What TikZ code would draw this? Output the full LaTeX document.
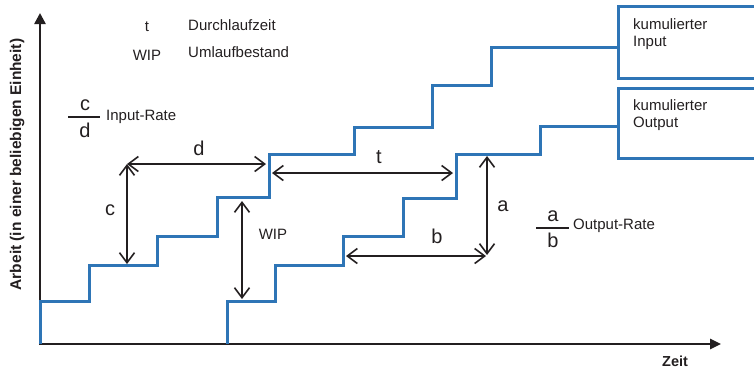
\documentclass[tikz,border=0pt]{standalone}
\usepackage{fontspec}
\setmainfont{Liberation Sans}
\usetikzlibrary{arrows.meta}
\definecolor{stepblue}{RGB}{46,117,182}
\definecolor{ink}{RGB}{35,31,32}
\begin{document}
\begin{tikzpicture}[x=1pt,y=-1pt,
  axis/.style={ink, line width=2.5pt},
  curve/.style={stepblue, line width=3pt, line join=miter},
  dim/.style={ink, line width=1.6pt,
    {Straight Barb[length=10pt,width=15pt]}-{Straight Barb[length=10pt,width=15pt]}},
  txt/.style={ink, inner sep=0pt, font=\fontsize{15}{17}\selectfont},
  letter/.style={ink, inner sep=0pt, font=\fontsize{20}{22}\selectfont},
  axlabel/.style={ink, inner sep=0pt, font=\fontsize{15.5}{17}\selectfont\bfseries},
  fracbar/.style={ink, line width=1.2pt}]
\useasboundingbox (0,0) rectangle (754,368);

% axes
\coordinate (origin) at (40,344);
\coordinate (ytop) at (40,13);
\coordinate (xend) at (721,344);
\draw[axis, -{Triangle[length=11pt,width=11pt]}] (40,345.2) -- (ytop);
\draw[axis, -{Triangle[length=11pt,width=10pt]}] (38.8,344) -- (xend);
\node[axlabel, rotate=90, anchor=base] (ylab) at (21,164.5) {Arbeit (in einer beliebigen Einheit)};
\node[axlabel, font=\fontsize{14.5}{17}\selectfont\bfseries, anchor=base west] (xlab) at (662,366) {Zeit};

% cumulative input and output
\draw[curve] (40,344) -- (40,301) -- (89,301) -- (89,265) -- (157,265) -- (157,236)
  -- (217,236) -- (217,197) -- (269,197) -- (269,154) -- (354,154) -- (354,127)
  -- (432,127) -- (432,85) -- (491,85) -- (491,47) -- (618,47);
\draw[curve] (227,344) -- (227,301) -- (275,301) -- (275,265) -- (343,265) -- (343,236)
  -- (403,236) -- (403,198) -- (456,198) -- (456,154) -- (540,154) -- (540,126) -- (618,126);

% legend boxes at the right edge
\draw[curve] (760,6) -- (618,6) -- (618,78) -- (760,78);
\draw[curve] (760,88) -- (618,88) -- (618,158) -- (760,158);
\node[txt, anchor=base west] (in1) at (633,29) {kumulierter};
\node[txt, anchor=base west] (in2) at (633,46) {Input};
\node[txt, anchor=base west] (out1) at (633,110) {kumulierter};
\node[txt, anchor=base west] (out2) at (633,127) {Output};

% symbol legend
\node[txt, anchor=base] (symt) at (147,31) {t};
\node[txt, anchor=base west] (deft) at (188,30) {Durchlaufzeit};
\node[txt, anchor=base] (symw) at (147,60) {WIP};
\node[txt, anchor=base west] (defw) at (188,57) {Umlaufbestand};

% input rate c/d
\node[letter, anchor=base] (fc) at (85,110) {c};
\node[letter, anchor=base] (fd) at (85,137) {d};
\coordinate (barL1) at (68,117);
\coordinate (barR1) at (100,117);
\draw[fracbar] (barL1) -- (barR1);
\node[txt, anchor=base west] (inrate) at (106,120) {Input-Rate};

% output rate a/b
\node[letter, anchor=base] (fa) at (553,221) {a};
\node[letter, anchor=base] (fb) at (553,247) {b};
\coordinate (barL2) at (536,228);
\coordinate (barR2) at (569,228);
\draw[fracbar] (barL2) -- (barR2);
\node[txt, anchor=base west] (outrate) at (573,229) {Output-Rate};

% dimension arrows
\coordinate (cTop) at (127,164);
\coordinate (cBot) at (127,264);
\coordinate (dEnd) at (266,164);
\coordinate (wTop) at (242,201);
\coordinate (wBot) at (242,299);
\coordinate (tL) at (272,173);
\coordinate (tR) at (453,173);
\coordinate (aTop) at (487,156);
\coordinate (aBot) at (487,255);
\coordinate (bL) at (346,256);
\coordinate (bR) at (486,256);
\draw[dim] (cTop) -- (dEnd);
\draw[dim] (cTop) -- (cBot);
\draw[dim] (wTop) -- (wBot);
\draw[dim] (tL) -- (tR);
\draw[dim] (aTop) -- (aBot);
\draw[dim] (bL) -- (bR);

\node[letter, anchor=base] (ld) at (199,155) {d};
\node[letter, anchor=base] (lc) at (110,215) {c};
\node[txt, anchor=base] (lw) at (273,239) {WIP};
\node[letter, anchor=base] (lt) at (379,163) {t};
\node[letter, anchor=base] (la) at (503,211) {a};
\node[letter, anchor=base] (lb) at (437,243) {b};
\end{tikzpicture}
\end{document}
